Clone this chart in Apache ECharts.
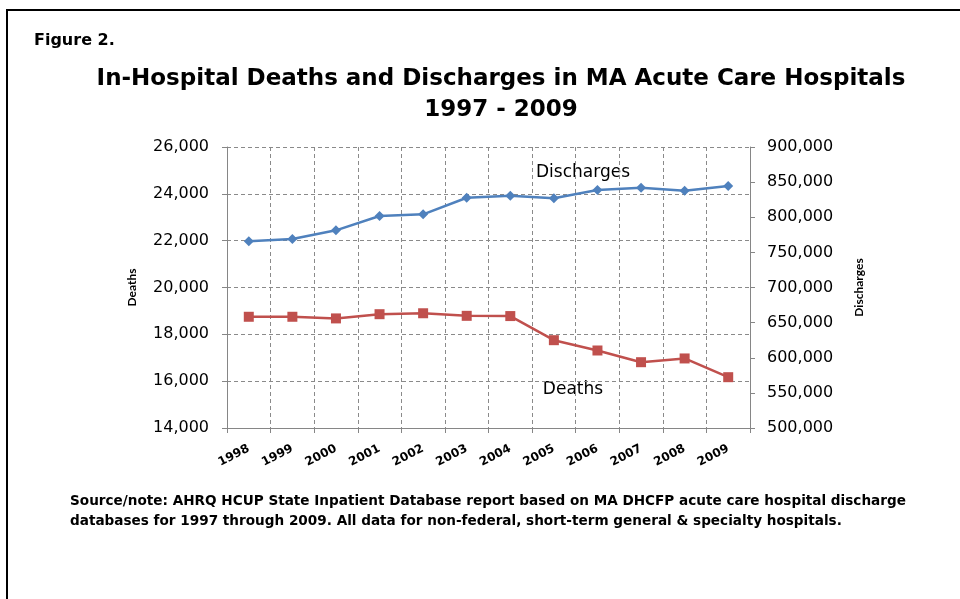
<!DOCTYPE html>
<html><head><meta charset="utf-8">
<script src="https://cdn.jsdelivr.net/npm/echarts@6/dist/echarts.min.js"></script>
<style>html,body{margin:0;padding:0;background:#fff}#c{width:960px;height:599px}</style>
</head><body><div id="c"></div>
<script>
const years = ['1998','1999','2000','2001','2002','2003','2004','2005','2006','2007','2008','2009'];
const deaths = [18750, 18750, 18680, 18860, 18900, 18790, 18780, 17750, 17310, 16810, 16970, 16170];
const discharges = [765800, 769000, 781400, 801800, 804200, 827800, 830700, 827000, 838800, 842100, 837800, 844500];
const deathTicks = [14000, 26000, 2000];
const dischargeTicks = [500000, 900000, 50000];

const F = '"DejaVu Sans", sans-serif';
const FN = 'Lato, sans-serif';
const chart = echarts.init(document.getElementById('c'));
const fmt = v => v.toLocaleString('en-US');
chart.setOption({
  animation: false,
  textStyle: {fontFamily: F},
  graphic: [
    {type:'polyline', shape:{points:[[7,599],[7,10],[960,10]]}, style:{stroke:'#000', lineWidth:2, fill:null}},
    {type:'text', x:34, y:33, style:{text:'Figure 2.', font:'bold 16px '+F, fill:'#000'}},
    {type:'text', x:501, y:64, style:{text:'In-Hospital Deaths and Discharges in MA Acute Care Hospitals\n1997 - 2009', font:'bold 23px '+F, fill:'#000', align:'center', lineHeight:31}},
    {type:'text', x:70, y:491, style:{text:'Source/note: AHRQ HCUP State Inpatient Database report based on MA DHCFP acute care hospital discharge\ndatabases for 1997 through 2009. All data for non-federal, short-term general & specialty hospitals.', font:'bold 13.6px '+F, fill:'#000', lineHeight:20}},
    {type:'text', x:583, y:173, style:{text:'Discharges', font:'17px '+F, fill:'#000', align:'center', verticalAlign:'middle'}},
    {type:'text', x:573, y:390, style:{text:'Deaths', font:'17px '+F, fill:'#000', align:'center', verticalAlign:'middle'}}
  ],
  grid: {left:227, right:210, top:147, bottom:171},
  xAxis: {
    type:'category', data: years, boundaryGap: true,
    axisLine:{lineStyle:{color:'#868686'}},
    axisTick:{show:true, length:5, lineStyle:{color:'#868686'}},
    axisLabel:{rotate:27, margin:20, color:'#000', fontWeight:'bold', fontSize:12, fontFamily:F},
    splitLine:{show:true, lineStyle:{type:[4,3], color:'#8a8a8a', width:1}}
  },
  yAxis: [
    {type:'value', min:deathTicks[0], max:deathTicks[1], interval:deathTicks[2], position:'left',
     name:'Deaths', nameLocation:'middle', nameGap:89, nameRotate:90,
     nameTextStyle:{fontWeight:'bold', fontSize:12, color:'#000', fontFamily:FN},
     axisLine:{show:true, lineStyle:{color:'#868686'}},
     axisTick:{show:true, length:5, lineStyle:{color:'#868686'}},
     axisLabel:{formatter:fmt, color:'#000', fontSize:16, margin:18, fontFamily:F},
     splitLine:{show:true, lineStyle:{type:[4,3], color:'#8a8a8a', width:1}}},
    {type:'value', min:dischargeTicks[0], max:dischargeTicks[1], interval:dischargeTicks[2], position:'right',
     name:'Discharges', nameLocation:'middle', nameGap:103, nameRotate:90,
     nameTextStyle:{fontWeight:'bold', fontSize:12, color:'#000', fontFamily:FN},
     axisLine:{show:true, lineStyle:{color:'#868686'}},
     axisTick:{show:true, length:5, lineStyle:{color:'#868686'}},
     axisLabel:{formatter:fmt, color:'#000', fontSize:16, margin:17, fontFamily:F},
     splitLine:{show:false}}
  ],
  series: [
    {type:'line', name:'Discharges', yAxisIndex:1, data:discharges, symbol:'diamond', symbolSize:10,
     lineStyle:{color:'#4F81BD', width:2.5}, itemStyle:{color:'#4F81BD'}},
    {type:'line', name:'Deaths', yAxisIndex:0, data:deaths, symbol:'rect', symbolSize:10,
     lineStyle:{color:'#C0504D', width:2.5}, itemStyle:{color:'#C0504D'}}
  ]
});
</script></body></html>
